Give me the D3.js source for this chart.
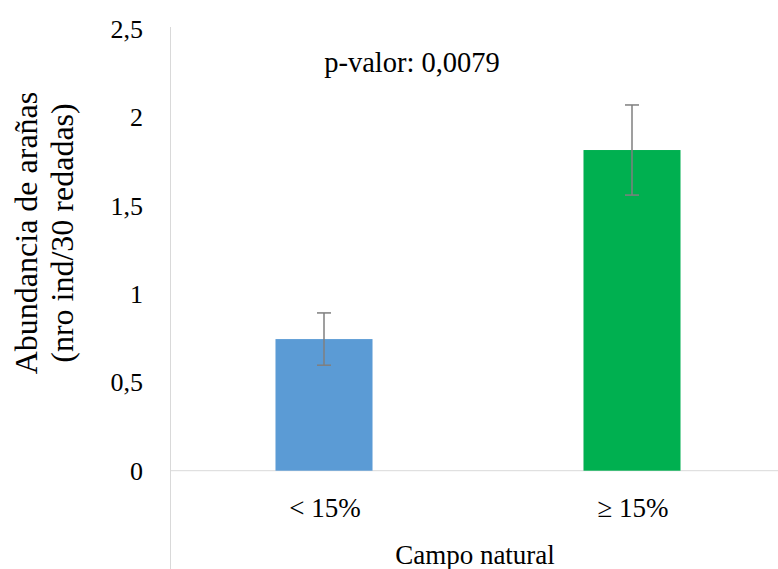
<!DOCTYPE html>
<html><head><meta charset="utf-8">
<script src="https://cdn.jsdelivr.net/npm/d3@7"></script>
<style>body{margin:0;background:#fff;} svg{display:block;} svg text{font-family:"Times New Roman","Liberation Serif",Tinos,"DejaVu Serif",serif;}</style>
</head><body>
<svg id="c" width="778" height="569"></svg>
<script>
const categories = ["< 15%", "≥ 15%"];
const values = [0.745, 1.815];
const errors = [0.148, 0.255];
const colors = ["#5B9BD5", "#00B050"];
const yTicks = [0, 0.5, 1, 1.5, 2, 2.5];
const yTickLabels = ["0", "0,5", "1", "1,5", "2", "2,5"];
const xTitle = "Campo natural";
const yTitle = ["Abundancia de arañas", "(nro ind/30 redadas)"];
const note = "p-valor: 0,0079";

const svg = d3.select("#c");
const x0 = 170, x1 = 786, yTop = 29, yBase = 470.7;
const x = d3.scaleBand().domain(categories).range([x0, x1]).padding(0);
const y = d3.scaleLinear().domain([0, 2.5]).range([yBase, yTop]);
const bw = x.bandwidth() * 0.315;

// axis lines
svg.append("line").attr("x1", x0 + 0.5).attr("x2", x0 + 0.5).attr("y1", 27).attr("y2", 569)
  .attr("stroke", "#d9d9d9").attr("stroke-width", 1);
svg.append("line").attr("x1", x0).attr("x2", 778).attr("y1", y(0)).attr("y2", y(0))
  .attr("stroke", "#d9d9d9").attr("stroke-width", 1);

// y tick labels
const yAxis = d3.axisLeft(y).tickValues(yTicks).tickSize(0).tickPadding(0)
  .tickFormat((d, i) => yTickLabels[i]);
const ga = svg.append("g").attr("transform", `translate(143,0)`).call(yAxis);
ga.select(".domain").remove();
ga.attr("font-family", null);
ga.selectAll("text").attr("font-size", 26).attr("fill", "#000");

// bars
svg.selectAll("rect.bar").data(categories).enter().append("rect")
  .attr("x", (d) => x(d) + x.bandwidth() / 2 - bw / 2)
  .attr("width", bw)
  .attr("y", (d, i) => y(values[i]))
  .attr("height", (d, i) => y(0) - y(values[i]))
  .attr("fill", (d, i) => colors[i]);

// error bars
const eg = svg.selectAll("g.err").data(categories).enter().append("g")
  .attr("stroke", "#7f7f7f").attr("stroke-width", 1.5);
eg.append("line")
  .attr("x1", (d) => x(d) + x.bandwidth() / 2).attr("x2", (d) => x(d) + x.bandwidth() / 2)
  .attr("y1", (d, i) => y(values[i] + errors[i])).attr("y2", (d, i) => y(values[i] - errors[i]));
eg.append("line")
  .attr("x1", (d) => x(d) + x.bandwidth() / 2 - 7).attr("x2", (d) => x(d) + x.bandwidth() / 2 + 7)
  .attr("y1", (d, i) => y(values[i] + errors[i])).attr("y2", (d, i) => y(values[i] + errors[i]));
eg.append("line")
  .attr("x1", (d) => x(d) + x.bandwidth() / 2 - 7).attr("x2", (d) => x(d) + x.bandwidth() / 2 + 7)
  .attr("y1", (d, i) => y(values[i] - errors[i])).attr("y2", (d, i) => y(values[i] - errors[i]));

// category labels
svg.selectAll("text.cat").data(categories).enter().append("text")
  .attr("x", (d) => x(d) + x.bandwidth() / 2 + 1)
  .attr("y", 517)
  .attr("text-anchor", "middle")
  .attr("font-size", 27)
  .text((d) => d);

// x title
svg.append("text").attr("x", 475).attr("y", 564).attr("text-anchor", "middle")
  .attr("font-size", 27).text(xTitle);

// p-value note
svg.append("text").attr("x", 412).attr("y", 72).attr("text-anchor", "middle")
  .attr("font-size", 28.5).text(note);

// y title
const yt = svg.append("text").attr("transform", "translate(0,233) rotate(-90)")
  .attr("text-anchor", "middle").attr("font-size", 32);
yt.append("tspan").attr("x", 0).attr("y", 37).text(yTitle[0]);
yt.append("tspan").attr("x", 0).attr("y", 73).text(yTitle[1]);
</script>
</body></html>
